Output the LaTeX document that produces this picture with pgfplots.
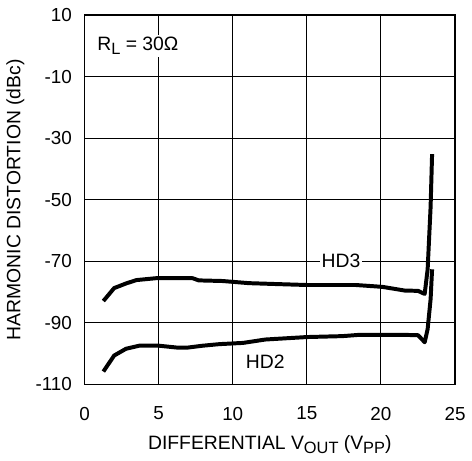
\documentclass[border=0pt]{standalone}
\usepackage{pgfplots}
\pgfplotsset{compat=1.18}
\usepackage{fontspec}
\setmainfont{Liberation Sans}
\newcommand{\lsub}[1]{\raisebox{-0.42ex}{\fontsize{16.5}{18}\selectfont #1}}
\begin{document}
\fontsize{19.5}{23}\selectfont
\begin{tikzpicture}
\begin{axis}[
  name=ax,
  scale only axis,
  width=372bp, height=371bp,
  xmin=0, xmax=25, ymin=-110, ymax=10,
  xtick={0,5,10,15,20,25},
  ytick={-110,-90,-70,-50,-30,-10,10},
  grid=major,
  major grid style={black, line width=1pt},
  axis line style={line width=1.6pt},
  major tick length=0pt,
  tick label style={font=\fontsize{19}{23}\selectfont},
  /pgf/number format/assume math mode=true,
  xlabel={DIFFERENTIAL V\lsub{OUT} (V\lsub{PP})},
  ylabel={HARMONIC DISTORTION (dBc)},
  label style={font=\fontsize{19.5}{23}\selectfont},
  xlabel style={yshift=-2pt},
  ylabel style={yshift=-2pt},
  xticklabel style={yshift=-16pt},
  yticklabel style={xshift=-6pt},
  clip=false,
]
\addplot[black, line width=4pt, line join=round] coordinates {
(1.27,-82.9) (2.0,-78.7) (2.8,-77.2) (3.5,-76.1) (4.8,-75.5) (6.0,-75.5) (7.3,-75.5) (7.7,-76.2) (9.3,-76.4) (11.1,-77.1) (13,-77.4) (15,-77.7) (18.3,-77.7) (20.1,-78.3) (21.6,-79.5) (22.5,-79.6) (22.95,-80.6) (23.15,-72.6) (23.35,-52.3) (23.45,-35.2)
};
\addplot[black, line width=4pt, line join=round] coordinates {
(1.27,-105.8) (2.0,-100.6) (2.8,-98.4) (3.7,-97.4) (5.0,-97.4) (6.2,-98.0) (7.0,-98.0) (8.0,-97.4) (9.1,-96.9) (10.7,-96.5) (12.2,-95.4) (15,-94.6) (17.4,-94.3) (18.5,-93.9) (21.6,-93.9) (22.5,-94.0) (22.8,-95.5) (22.95,-96.3) (23.15,-92) (23.35,-82.3) (23.45,-72.6)
};
\node[fill=white, inner sep=2pt] at (axis cs:3.6,0) {R\lsub{L} = 30Ω};
\node[fill=white, inner sep=2pt] at (axis cs:17.3,-70) {HD3};
\node[inner sep=2pt] at (axis cs:12.2,-102.6) {HD2};
\end{axis}
\path (ax.north west) ++(0,15bp) coordinate (bbtop);
\path (ax.south east) ++(12bp,0) coordinate (bbright);
\end{tikzpicture}
\end{document}
